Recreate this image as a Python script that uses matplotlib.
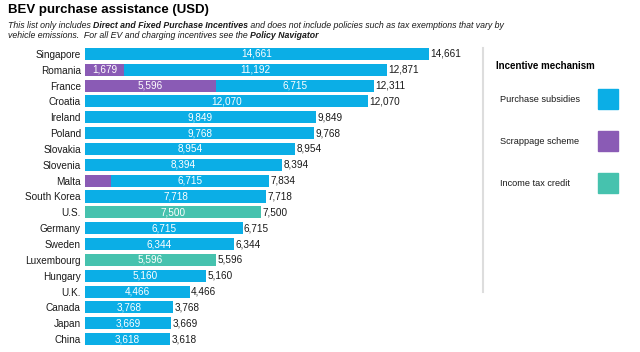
import matplotlib.pyplot as plt
from matplotlib.patches import Rectangle

plt.rcParams['font.family'] = ['Liberation Sans', 'DejaVu Sans']

# Datos
paises = ["Singapore", "Romania", "France", "Croatia", "Ireland", "Poland",
          "Slovakia", "Slovenia", "Malta", "South Korea", "U.S.", "Germany",
          "Sweden", "Luxembourg", "Hungary", "U.K.", "Canada", "Japan", "China"]
subsidios = [14661, 11192, 6715, 12070, 9849, 9768, 8954, 8394, 6715, 7718,
             0, 6715, 6344, 0, 5160, 4466, 3768, 3669, 3618]
chatarreo = [0, 1679, 5596, 0, 0, 0, 0, 0, 1119, 0,
             0, 0, 0, 0, 0, 0, 0, 0, 0]
credito_fiscal = [0, 0, 0, 0, 0, 0, 0, 0, 0, 0,
                  7500, 0, 0, 5596, 0, 0, 0, 0, 0]

c_sub = "#0BAEE6"
c_chat = "#8A5BB5"
c_cred = "#46C2AE"

fig = plt.figure(figsize=(6.4, 3.52), dpi=100)
ax = fig.add_axes([85 / 640, 1 - 347 / 352, 395 / 640, 301 / 352])

y = list(range(len(paises)))
h = 0.76
ax.barh(y, chatarreo, height=h, color=c_chat)
ax.barh(y, subsidios, left=chatarreo, height=h, color=c_sub)
ax.barh(y, credito_fiscal, height=h, color=c_cred)

for i in y:
    inicio = 0
    for v in (chatarreo[i], subsidios[i], credito_fiscal[i]):
        if v > 1500:
            ax.text(inicio + v / 2, i, f"{v:,}", ha='center', va='center',
                    color='white', fontsize=7.2)
        inicio += v
    total = chatarreo[i] + subsidios[i] + credito_fiscal[i]
    ax.text(total + 60, i, f"{total:,}", ha='left', va='center',
            color='#1a1a1a', fontsize=7.2)

ax.set_xlim(0, 16840)
ax.set_ylim(len(paises) - 0.5, -0.5)
ax.set_yticks(y)
ax.set_yticklabels(paises, fontsize=7.2, color='#1a1a1a')
ax.tick_params(axis='y', length=0, pad=3)
ax.set_xticks([])
for s in ax.spines.values():
    s.set_visible(False)

# Titulo y subtitulo
fig.text(8 / 640, 1 - 10 / 352, "BEV purchase assistance (USD)", fontsize=9.5,
         fontweight='bold', va='center', ha='left')

fig.canvas.draw()
renderer = fig.canvas.get_renderer()


def linea(partes, x0, ypx):
    x = x0
    for texto, negrita in partes:
        t = fig.text(x, 1 - ypx / 352, texto, fontsize=6.3, style='italic',
                     fontweight='bold' if negrita else 'normal',
                     va='center', ha='left', color='#1a1a1a')
        bb = t.get_window_extent(renderer)
        x += bb.width / 640


linea([("This list only includes ", False),
       ("Direct and Fixed Purchase Incentives", True),
       (" and does not include policies such as tax exemptions that vary by", False)],
      8 / 640, 26)
linea([("vehicle emissions.  For all EV and charging incentives see the ", False),
       ("Policy Navigator", True)], 8 / 640, 35)

# Leyenda
fig.add_artist(plt.Line2D([483 / 640, 483 / 640], [1 - 48 / 352, 1 - 292 / 352],
                          color='#DDDDDD', lw=1.5))
fig.text(496 / 640, 1 - 66 / 352, "Incentive mechanism", fontsize=7,
         fontweight='bold', va='center', ha='left')
leyenda = [("Purchase subsidies", c_sub), ("Scrappage scheme", c_chat),
           ("Income tax credit", c_cred)]
for k, (nombre, color) in enumerate(leyenda):
    yc = 99 + k * 42
    fig.text(500 / 640, 1 - yc / 352, nombre, fontsize=6.6, va='center',
             ha='left', color='#1a1a1a')
    fig.add_artist(Rectangle((598 / 640, 1 - (yc + 10) / 352), 20 / 640, 20 / 352,
                             color=color, transform=fig.transFigure))

fig.savefig("out.png", dpi=100)
